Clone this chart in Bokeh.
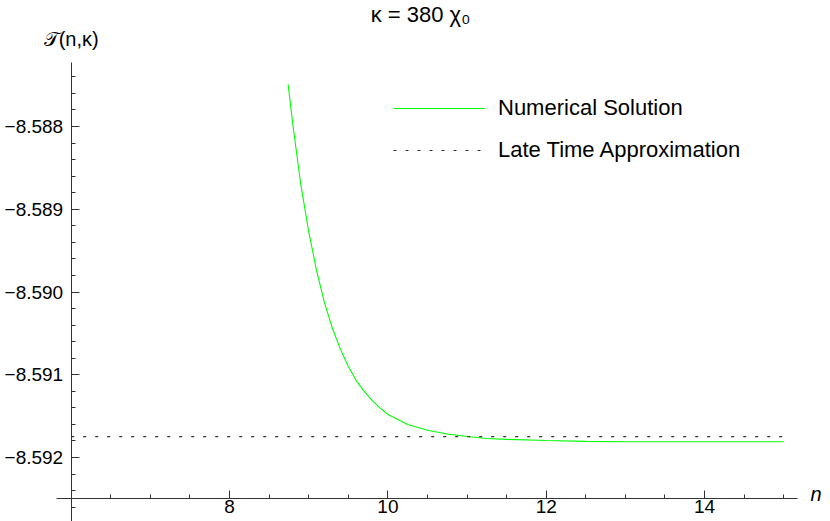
from bokeh.plotting import figure
from bokeh.models import (Range1d, FixedTicker, CustomJSTickFormatter, Label,
                          Legend, LegendItem)
from bokeh.embed import file_html
from bokeh.resources import INLINE

# ---- data ----
n_numeric = [8.74, 8.8, 8.9, 9.0, 9.1, 9.2, 9.3, 9.4, 9.5, 9.6, 9.7, 9.8, 9.9,
             10.0, 10.25, 10.5, 10.75, 11.0, 11.25, 11.5, 12.0, 12.5, 13.0, 14.0, 15.0]
T_numeric = [-8.58749, -8.58798, -8.58870, -8.58927, -8.589745, -8.59013, -8.59044,
             -8.59069, -8.59090, -8.59107, -8.59120, -8.59131, -8.59140,
             -8.59148, -8.59160, -8.59167, -8.591715, -8.591745, -8.59177, -8.59178,
             -8.591795, -8.591805, -8.59181, -8.59181, -8.59181]
n_late = [6.0, 15.0]
T_late = [-8.591747, -8.591747]

x_major = [8, 10, 12, 14]
x_minor = [6.5, 7, 7.5, 8.5, 9, 9.5, 10.5, 11, 11.5, 12.5, 13, 13.5, 14.5, 15]
y_major = [-8.588, -8.589, -8.590, -8.591, -8.592]
y_minor = [round(-8.5874 - 0.0002 * i, 4) for i in range(27)]

title_text = "κ = 380 χ₀"
ylabel_text = "𝒯(n,κ)"
xlabel_text = "n"
legend_labels = ["Numerical Solution", "Late Time Approximation"]

FONT = "Liberation Sans"
# visible canvas ranges and the extent of the drawn axes
X0, X1 = 5.1070, 15.5907
Y0, Y1 = -8.592773, -8.586477
XB = (5.82, 15.18)
YB = (-8.592773, -8.587227)
X_AXIS_AT = -8.592495
Y_AXIS_AT = 6.0

p = figure(width=830, height=521, output_backend="svg", toolbar_location=None,
           title=None, x_range=Range1d(X0, X1), y_range=Range1d(Y0, Y1),
           min_border_left=0, min_border_right=0, min_border_top=0,
           min_border_bottom=0)
p.xgrid.visible = False
p.ygrid.visible = False
p.outline_line_color = None
p.background_fill_color = "white"

axis_col = "#333333"
xa = p.xaxis[0]
xa.fixed_location = X_AXIS_AT
xa.bounds = XB
xa.ticker = FixedTicker(ticks=x_major, minor_ticks=x_minor)
xa.major_tick_in = 8
xa.major_tick_out = 0
xa.minor_tick_in = 4
xa.minor_tick_out = 0
xa.axis_line_color = axis_col
xa.major_tick_line_color = axis_col
xa.minor_tick_line_color = axis_col
xa.major_label_standoff = 2
xa.major_label_text_font = FONT
xa.major_label_text_font_size = "19px"
xa.major_label_text_color = "black"

ya = p.yaxis[0]
ya.fixed_location = Y_AXIS_AT
ya.bounds = YB
ya.ticker = FixedTicker(ticks=y_major, minor_ticks=y_minor)
ya.formatter = CustomJSTickFormatter(code="return tick.toFixed(3).replace('-', '\\u2212');")
ya.major_tick_in = 8
ya.major_tick_out = 0
ya.minor_tick_in = 4
ya.minor_tick_out = 0
ya.axis_line_color = axis_col
ya.major_tick_line_color = axis_col
ya.minor_tick_line_color = axis_col
ya.major_label_standoff = 8
ya.major_label_text_font = FONT
ya.major_label_text_font_size = "19px"
ya.major_label_text_color = "black"

r1 = p.line(n_numeric, T_numeric, line_color="#00ff00", line_width=1.1)
r2 = p.line(n_late, T_late, line_color="#333333", line_width=1.2, line_dash="3 9")

legend = Legend(items=[LegendItem(label=legend_labels[0], renderers=[r1]),
                       LegendItem(label=legend_labels[1], renderers=[r2])],
                location=(393, 358), glyph_width=92, glyph_height=26,
                label_height=26, spacing=16, padding=0, margin=0,
                label_standoff=13, border_line_color=None,
                background_fill_alpha=0, label_text_font=FONT,
                label_text_font_size="22px", label_text_color="black")
p.add_layout(legend)

p.add_layout(Label(x=10.412, y=-8.586647, text=title_text, text_align="center",
                   text_baseline="middle", text_font=FONT, text_font_size="22px",
                   text_color="black"))
p.add_layout(Label(x=Y_AXIS_AT, y=-8.586937, text=ylabel_text, text_align="center",
                   text_baseline="middle", text_font=FONT, text_font_size="20px",
                   text_color="black"))
p.add_layout(Label(x=15.338, y=-8.592435, text=xlabel_text, text_align="left",
                   text_baseline="middle", text_font=FONT, text_font_size="20px",
                   text_font_style="italic", text_color="black"))

open("out.html", "w").write(file_html(p, INLINE))
